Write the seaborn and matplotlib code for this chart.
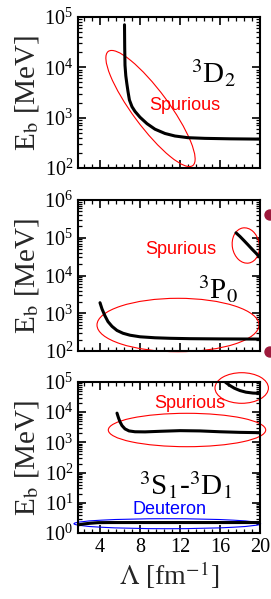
import matplotlib as mpl
mpl.use("Agg")
import matplotlib.pyplot as plt
import matplotlib.ticker as mticker
from matplotlib.patches import Ellipse, Circle
from matplotlib.transforms import Affine2D
import seaborn as sns

# 3D2 channel
lam_d2 = [6.45, 6.47, 6.5, 6.58, 6.68, 6.8, 6.94, 7.2, 7.5, 8.0, 8.7, 9.5, 10.5, 11.5, 12.8, 14.5, 17, 20]
eb_d2 = [7e4, 2.5e4, 1.1e4, 6800, 4800, 3300, 2250, 1650, 1330, 1020, 760, 590, 485, 432, 400, 388, 380, 375]

# 3P0 channel
lam_p0_low = [4.0, 4.2, 4.5, 4.8, 5.2, 5.7, 6.3, 7.0, 8.0, 9.5, 11, 13, 16, 20]
eb_p0_low = [1900, 1300, 850, 600, 450, 350, 295, 262, 238, 224, 217, 212, 209, 207]
lam_p0_high = [17.6, 18.0, 18.4, 18.8, 19.2, 19.6, 20.0]
eb_p0_high = [1.35e5, 1.08e5, 8.4e4, 6.5e4, 5.0e4, 3.9e4, 3.0e4]

# 3S1-3D1 channel
lam_s1_high = [16.2, 16.6, 17.0, 17.45, 18.0, 18.6, 19.3, 20.0]
eb_s1_high = [1.25e5, 9.5e4, 7.6e4, 6.2e4, 5.2e4, 4.6e4, 4.3e4, 4.2e4]
lam_s1_mid = [5.7, 5.85, 6.0, 6.2, 6.5, 6.9, 7.5, 8.5, 10, 12, 14, 16, 18, 20]
eb_s1_mid = [9300, 6500, 4800, 3600, 2800, 2400, 2250, 2230, 2330, 2450, 2400, 2250, 2150, 2100]
lam_deut = [1.8, 2.4, 3.0, 3.8, 5, 8, 12, 16, 20]
eb_deut = [1.85, 2.0, 2.1, 2.2, 2.22, 2.22, 2.22, 2.22, 2.22]

W, H = 271, 599
sns.set_style("white")
plt.rcParams["font.family"] = ["Liberation Serif", "DejaVu Serif"]
plt.rcParams["mathtext.fontset"] = "stix"

fig = plt.figure(figsize=(W / 100, H / 100), dpi=100)
# pixel coords (origin top-left) -> figure
pix = Affine2D().scale(1 / W, -1 / H).translate(0, 1) + fig.transFigure

def make_ax(top, bottom, ylo, yhi):
    ax = fig.add_axes([78 / W, 1 - bottom / H, 182 / W, (bottom - top) / H])
    ax.set_yscale("log")
    ax.set_ylim(ylo, yhi)
    ax.set_xlim(1.8, 20)
    ax.xaxis.set_major_locator(mticker.FixedLocator([4, 8, 12, 16, 20]))
    ax.xaxis.set_minor_locator(mticker.MultipleLocator(0.8))
    ax.yaxis.set_major_locator(mticker.LogLocator(base=10, numticks=12))
    ax.yaxis.set_minor_locator(mticker.LogLocator(base=10, subs=range(2, 10), numticks=12))
    ax.tick_params(which="both", direction="in", bottom=True, left=True, top=True, right=True,
                   color="black", labelcolor="black", labelsize=14.5)
    ax.tick_params(which="major", length=6, width=1.2)
    ax.tick_params(which="minor", length=3, width=0.9)
    for s in ax.spines.values():
        s.set_linewidth(1.5)
        s.set_color("black")
    ax.set_ylabel(r"E$_\mathrm{b}$ [MeV]", fontsize=21, labelpad=2)
    return ax

def curve(ax, x, y):
    sns.lineplot(x=x, y=y, ax=ax, color="black", linewidth=2.2, sort=False, estimator=None)

def ring(ax, cx, cy, a, b, ang=0, color="red"):
    ax.add_patch(Ellipse((cx, cy), 2 * a, 2 * b, angle=ang, transform=pix,
                         fill=False, edgecolor=color, linewidth=0.8, clip_on=False))

def note(ax, x, y, s, color, size, family):
    ax.text(x, y, s, transform=pix, color=color, fontsize=size, family=family,
            ha="center", va="center")

# panel 1
ax1 = make_ax(17, 168, 1e2, 1e5)
curve(ax1, lam_d2, eb_d2)
ring(ax1, 150.5, 108.5, 71, 18, 53.5)
note(ax1, 185, 106, "Spurious", "red", 13, ["Liberation Sans"])
note(ax1, 214, 73, r"$^3$D$_2$", "black", 21, ["Liberation Serif"])
ax1.set_xticklabels([])

# panel 2
ax2 = make_ax(200, 351, 1e2, 1e6)
curve(ax2, lam_p0_low, eb_p0_low)
curve(ax2, lam_p0_high, eb_p0_high)
ring(ax2, 178, 325, 81, 26.7)
ring(ax2, 245.8, 245.5, 13.5, 17.8, -10)
note(ax2, 181, 250, "Spurious", "red", 13, ["Liberation Sans"])
note(ax2, 218, 289, r"$^3$P$_0$", "black", 21, ["Liberation Serif"])
ax2.set_xticklabels([])

# panel 3
ax3 = make_ax(382, 533, 1e0, 1e5)
curve(ax3, lam_s1_high, eb_s1_high)
curve(ax3, lam_s1_mid, eb_s1_mid)
curve(ax3, lam_deut, eb_deut)
ring(ax3, 241.7, 388, 26.7, 15.3)
ring(ax3, 187, 430, 78.7, 16.7)
ring(ax3, 167.3, 523.7, 93.3, 5, color="blue")
note(ax3, 190, 404, "Spurious", "red", 13, ["Liberation Sans"])
note(ax3, 169, 510, "Deuteron", "blue", 13, ["Liberation Sans"])
note(ax3, 186, 485, r"$^3$S$_1$-$^3$D$_1$", "black", 21, ["Liberation Serif"])
ax3.set_xlabel(r"$\Lambda$ [fm$^{-1}$]", fontsize=20, labelpad=2)

# partial markers from neighbouring panel at right edge
for cy in (215, 352):
    fig.patches.append(Circle((270, cy), 5, transform=pix, color="#9e1a3c"))

fig.savefig("out.png", dpi=100)
